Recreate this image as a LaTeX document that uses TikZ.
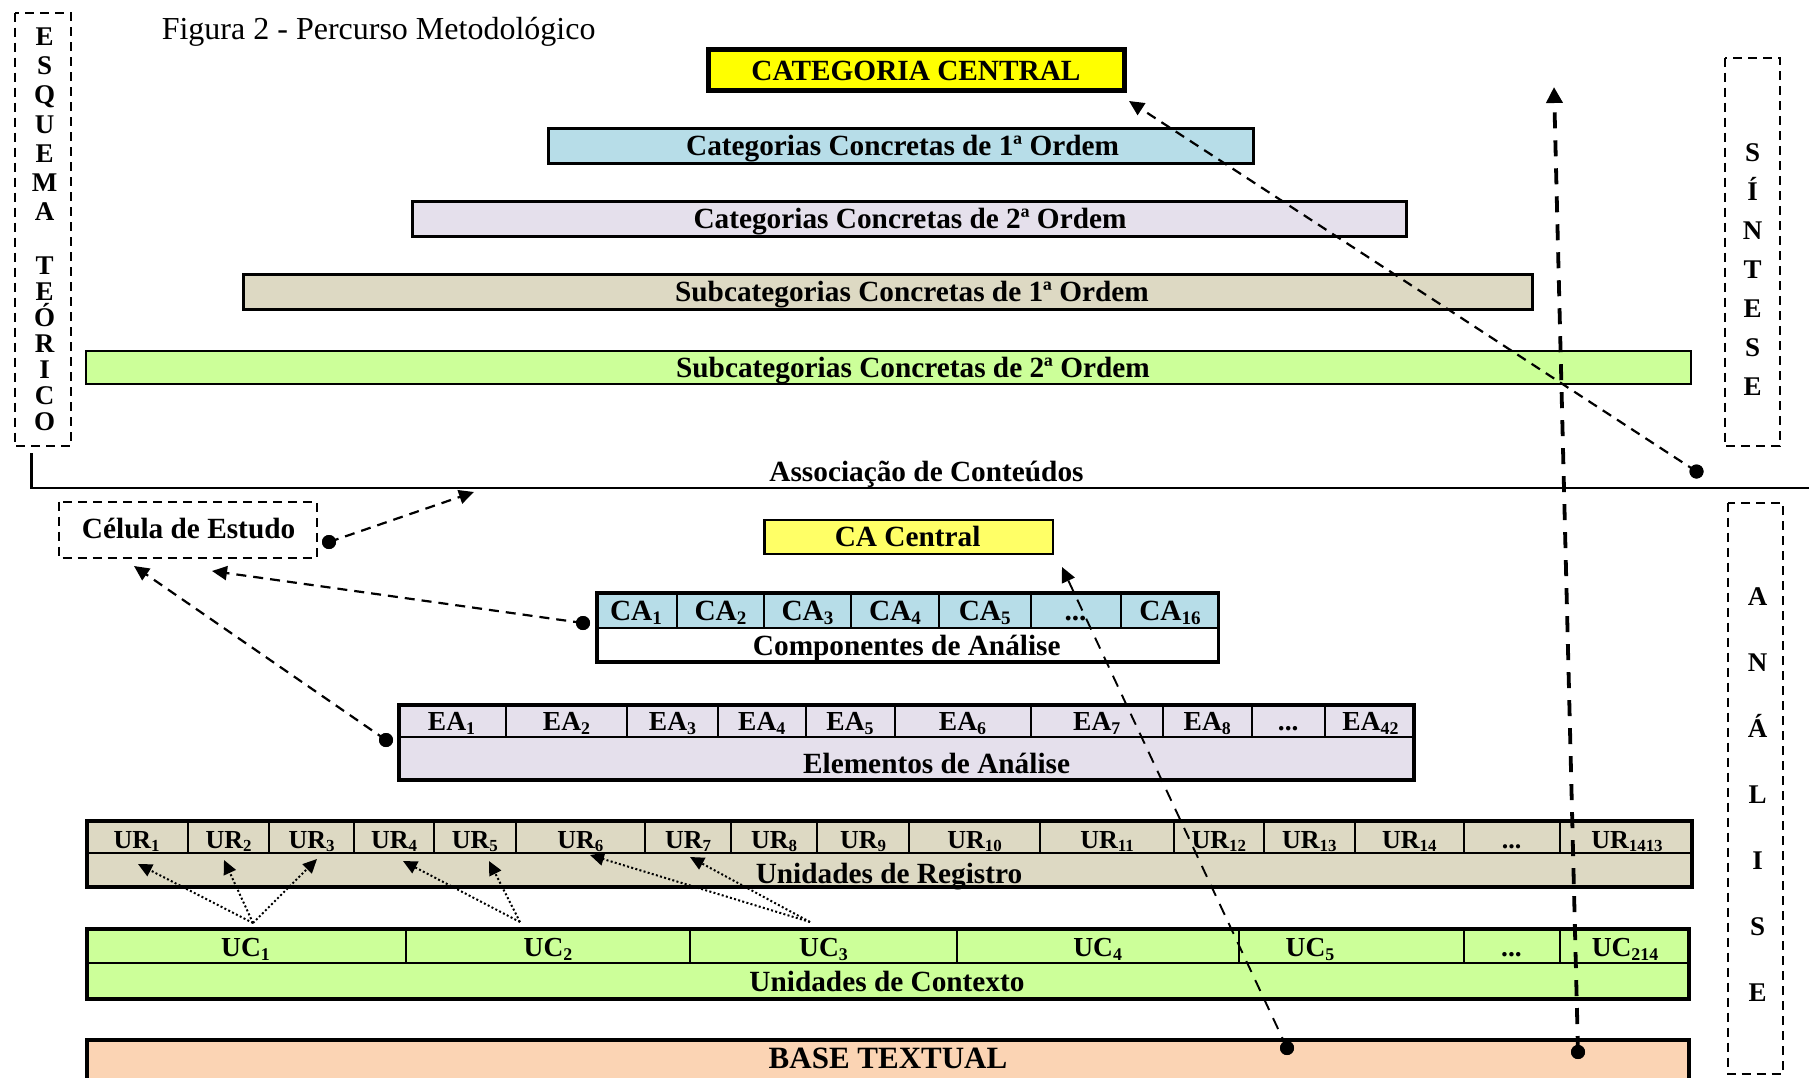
\documentclass[tikz,border=0pt]{standalone}
\usepackage{fontspec}
\setmainfont{Liberation Serif}
\usetikzlibrary{arrows.meta}

\definecolor{cYellow}{HTML}{FFFF00}
\definecolor{cPaleYellow}{HTML}{FFFF66}
\definecolor{cBlue}{HTML}{B7DDE8}
\definecolor{cLilac}{HTML}{E5E0EC}
\definecolor{cSand}{HTML}{DDD9C3}
\definecolor{cLime}{HTML}{CCFF99}
\definecolor{cPeach}{HTML}{FBD4B4}

% lowered, reduced index digits
\newcommand{\lo}[1]{\raisebox{-0.15em}{\scalebox{0.65}{#1}}}
% ellipsis cell
\newcommand{\etcdots}{...}

\begin{document}
\begin{tikzpicture}[x=1pt,y=-1pt,
  lab/.style={font=\fontsize{29.3}{32}\selectfont\bfseries, inner sep=0pt, anchor=base},
  labsm/.style={lab, font=\fontsize{26}{30}\selectfont\bfseries},
  labmd/.style={lab, font=\fontsize{27.5}{30}\selectfont\bfseries},
  vlet/.style={lab, font=\fontsize{27}{30}\selectfont\bfseries},
  frame/.style={draw=black, line width=2pt, dash pattern=on 9pt off 6pt},
  link/.style={draw=black, line width=2.2pt, dash pattern=on 10pt off 7pt,
    -{Triangle[length=15pt,width=14pt]}},
  thinlink/.style={draw=black, line width=1.9pt, dash pattern=on 12pt off 9pt,
    -{Triangle[length=15pt,width=14pt]}},
  boldlink/.style={draw=black, line width=3.8pt, dash pattern=on 16pt off 12pt,
    -{Triangle[length=16pt,width=16pt]}},
  dotlink/.style={draw=black, line width=2pt, dash pattern=on 2pt off 2.3pt,
    -{Triangle[length=14pt,width=13pt]}},
  dot/.style={circle, fill=black, inner sep=0pt, minimum size=14pt},
]
\useasboundingbox (0,0) rectangle (1809,1077);
\clip (0,0) rectangle (1809,1077);
\fill[white] (0,0) rectangle (1809,1077);

% ---------- title ----------
\node[anchor=base west, inner sep=0pt, font=\fontsize{32}{35}\selectfont] (title) at (161.6,39.3)
  {Figura 2 - Percurso Metodológico};

% ---------- side frames ----------
\draw[frame] (14.5,12.5) rectangle (70.5,446);
\draw[frame] (1724.5,57.5) rectangle (1779.5,446);
\draw[frame] (1728,502.5) rectangle (1782.5,1074);

\foreach \c [count=\i from 0] in {E,S,Q,U,E,M,A}
  \node[vlet] (esq\i) at (44.6,{45.7+29.1*\i}) {\c};
\foreach \c [count=\i from 0] in {T,E,Ó,R,I,C,O}
  \node[vlet] (teo\i) at (44.6,{274+26.1*\i}) {\c};
\foreach \c [count=\i from 0] in {S,Í,N,T,E,S,E}
  \node[vlet] (sin\i) at (1752.7,{161.7+38.9*\i}) {\c};
\foreach \c [count=\i from 0] in {A,N,Á,L,I,S,E}
  \node[vlet] (ana\i) at (1757.7,{605+66*\i}) {\c};

% ---------- category pyramid ----------
\draw[fill=cYellow, line width=5pt] (708.5,49.5) rectangle (1124.5,90.5);
\node[lab] (central) at (916,80) {CATEGORIA CENTRAL};

\draw[fill=cBlue, line width=3.3pt] (548.5,128.5) rectangle (1253.5,163.5);
\node[lab] (cat1) at (902.6,155.3) {Categorias Concretas de 1ª Ordem};

\draw[fill=cLilac, line width=3pt] (412.5,201.5) rectangle (1406.5,236.5);
\node[lab] (cat2) at (910,228.7) {Categorias Concretas de 2ª Ordem};

\draw[fill=cSand, line width=3pt] (243.5,274.5) rectangle (1532.5,309.5);
\node[lab] (sub1) at (912,301.7) {Subcategorias Concretas de 1ª Ordem};

\draw[fill=cLime, line width=2.3pt] (86,351) rectangle (1691,384);
\node[lab] (sub2) at (913,377.3) {Subcategorias Concretas de 2ª Ordem};

% ---------- divider ----------
\draw[line width=2.5pt] (31.3,453) -- (31.3,488) -- (1809,488);
\node[lab] (assoc) at (926.5,481) {Associação de Conteúdos};

% ---------- study cell ----------
\draw[frame] (58.5,501.5) rectangle (316.5,557.5);
\node[lab] (celula) at (188.6,538.3) {Célula de Estudo};

% ---------- CA central ----------
\draw[fill=cPaleYellow, line width=2.2pt] (764.5,520) rectangle (1053,554);
\node[lab] (cacentral) at (907.6,546.7) {CA Central};

% ---------- components of analysis ----------
\fill[cBlue] (597,593) rectangle (1218.5,628);
\fill[white] (597,628) rectangle (1218.5,662);
\foreach \x in {677,764,851,939,1030.5,1120.6}
  \draw[line width=2pt] (\x,593) -- (\x,628);
\draw[line width=2.6pt] (597,628) -- (1218.5,628);
\draw[line width=3.7pt] (597,593) rectangle (1218.5,662);
\foreach \x/\t [count=\i] in {636/CA\lo{1},720.5/CA\lo{2},807.5/CA\lo{3},895/CA\lo{4},
    984.75/CA\lo{5},1075.5/\etcdots,1170/CA\lo{16}}
  \node[lab] (caCell\i) at (\x,620) {\t};
\node[lab] (componentes) at (906.8,655) {Componentes de Análise};

% ---------- elements of analysis ----------
\fill[cLilac] (399,705) rectangle (1414,780);
\foreach \x in {506,627,718,805.5,894.5,1030.5,1163,1251.5,1325}
  \draw[line width=2pt] (\x,705) -- (\x,737);
\draw[line width=2.6pt] (399,737) -- (1414,737);
\draw[line width=4pt] (399,705) rectangle (1414,780);
\foreach \x/\t [count=\i] in {451.5/EA\lo{1},566.5/EA\lo{2},672.5/EA\lo{3},761.75/EA\lo{4},
    850/EA\lo{5},962.5/EA\lo{6},1096.75/EA\lo{7},1207.25/EA\lo{8},1288.25/\etcdots,1370.5/EA\lo{42}}
  \node[labmd] (eaCell\i) at (\x,730) {\t};
\node[lab] (elementos) at (936.6,773.3) {Elementos de Análise};

% ---------- recording units ----------
\fill[cSand] (87,821) rectangle (1692,887);
\foreach \x in {188,269,354,434,515.5,645,731,817,909,1040,1174,1263.5,1355,1463.5,1559.5}
  \draw[line width=2pt] (\x,821) -- (\x,853);
\draw[line width=2.6pt] (87,853) -- (1692,853);
\draw[line width=4pt] (87,821) rectangle (1692,887);
\foreach \x/\t [count=\i] in {136.5/UR\lo{1},228.5/UR\lo{2},311.5/UR\lo{3},394/UR\lo{4},
    474.75/UR\lo{5},580.25/UR\lo{6},688/UR\lo{7},774/UR\lo{8},863/UR\lo{9},974.5/UR\lo{10},
    1107/UR\lo{11},1218.75/UR\lo{12},1309.25/UR\lo{13},1409.25/UR\lo{14},1511.5/\etcdots,1627/UR\lo{1413}}
  \node[labsm] (urCell\i) at (\x,848) {\t};
\node[lab] (registro) at (889,883) {Unidades de Registro};

% ---------- context units ----------
\fill[cLime] (87,929) rectangle (1689,999);
\foreach \x in {406,690,957,1238.5,1463.5,1559.5}
  \draw[line width=2pt] (\x,929) -- (\x,963);
\draw[line width=2.6pt] (87,963) -- (1689,963);
\draw[line width=4pt] (87,929) rectangle (1689,999);
\foreach \x/\t [count=\i] in {245.5/UC\lo{1},548/UC\lo{2},823.5/UC\lo{3},1097.7/UC\lo{4},
    1310/UC\lo{5},1511.5/\etcdots,1625/UC\lo{214}}
  \node[labmd] (ucCell\i) at (\x,956.5) {\t};
\node[lab] (contexto) at (887,991.7) {Unidades de Contexto};

% ---------- text base ----------
\draw[fill=cPeach, line width=4pt] (87,1040) rectangle (1689,1100);
\node[lab, font=\fontsize{31}{34}\selectfont\bfseries] (base) at (888,1068) {BASE TEXTUAL};

% ---------- connector ends ----------
\coordinate (tAssoc) at (474,492);
\coordinate (tCel1) at (212,571);
\coordinate (tCel2) at (134,566);
\coordinate (tCAc) at (1062,567);
\coordinate (tSint) at (1554,87);
\coordinate (tCC) at (1129,101);

\coordinate (uc1) at (253,923);
\coordinate (uc2) at (520,922);
\coordinate (uc3) at (810,922);
\coordinate (urTip1) at (138,864);
\coordinate (urTip2) at (224,860);
\coordinate (urTip3) at (317,859);
\coordinate (urTip4) at (403,861);
\coordinate (urTip5) at (489,861);
\coordinate (urTip6) at (590,855);
\coordinate (urTip7) at (690,857);

\node[dot] (dCel) at (329,542) {};
\node[dot] (dCA) at (583,623) {};
\node[dot] (dEA) at (386,740) {};
\node[dot] (dBase1) at (1287,1048) {};
\node[dot] (dBase2) at (1578,1052) {};
\node[dot] (dAssoc) at (1696.5,471.5) {};

% ---------- connectors ----------
\draw[link] (dCel.center) -- (tAssoc);
\draw[link] (dCA.center) -- (tCel1);
\draw[link] (dEA.center) -- (tCel2);
\draw[link] (dAssoc.center) -- (tCC);
\draw[thinlink] (dBase1.center) -- (tCAc);
\draw[boldlink] (dBase2.center) -- (tSint);

\draw[dotlink] (uc1) -- (urTip1);
\draw[dotlink] (uc1) -- (urTip2);
\draw[dotlink] (uc1) -- (urTip3);
\draw[dotlink] (uc2) -- (urTip4);
\draw[dotlink] (uc2) -- (urTip5);
\draw[dotlink] (uc3) -- (urTip6);
\draw[dotlink] (uc3) -- (urTip7);

% dots on top of their lines
\foreach \d in {dCel,dCA,dEA,dBase1,dBase2,dAssoc}
  \fill (\d) circle (7pt);
\end{tikzpicture}
\end{document}
